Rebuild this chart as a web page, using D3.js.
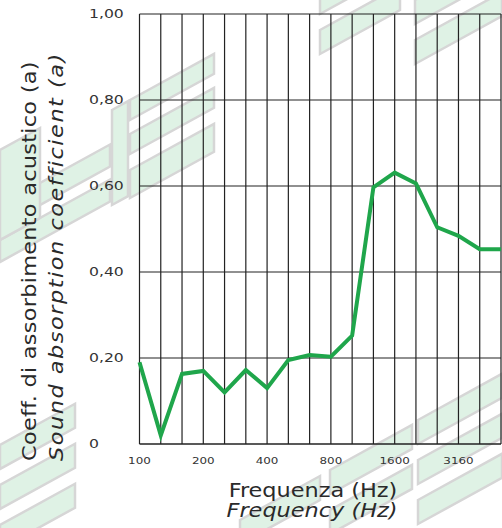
<!DOCTYPE html>
<html>
<head>
<meta charset="utf-8">
<script src="https://cdn.jsdelivr.net/npm/d3@7"></script>
<style>
  html, body { margin: 0; padding: 0; background: #fff; }
  svg { display: block; }
</style>
</head>
<body>
<script>
// ---- data ----
const frequencies = ["100","125","160","200","250","315","400","500","630","800","1000","1250","1600","2000","2500","3150","4000","5000"];
const absorption  = [0.19, 0.02, 0.163, 0.17, 0.12, 0.172, 0.13, 0.195, 0.207, 0.203, 0.252, 0.597, 0.631, 0.606, 0.504, 0.484, 0.453, 0.453];
const xTickAt     = ["100","200","400","800","1600","3150"];
const xTickLabels = ["100","200","400","800","1600","3160"];
const yTicks      = [0, 0.2, 0.4, 0.6, 0.8, 1.0];
const yTickLabels = ["0","0,20","0,40","0,60","0,80","1,00"];
const yTitle      = ["Coeff. di assorbimento acustico (a)", "Sound absorption coefficient (a)"];
const xTitle      = ["Frequenza (Hz)", "Frequency (Hz)"];

// ---- layout ----
const W = 502, H = 528;
const plot = { left: 139.5, right: 501, top: 14, bottom: 444 };

const svg = d3.select("body").append("svg").attr("width", W).attr("height", H);
svg.append("rect").attr("width", W).attr("height", H).attr("fill", "#fff");

// ---- faint background watermark (decorative) ----
const wm = svg.append("g").attr("fill", "#dff2e5").attr("stroke", "#d6d6d6").attr("stroke-width", 2.5);
function band(x0, x1, yTop0, h, slope) {
  const yTop1 = yTop0 - (x1 - x0) * slope;
  wm.append("path").attr("d", `M${x0},${yTop0}L${x1},${yTop1}L${x1},${yTop1 + h}L${x0},${yTop0 + h}Z`);
}
const s = 0.55;
// top-left motif
band(130, 214, 100, 20, s); band(130, 214, 134, 20, s); band(130, 214, 170, 28, s);
band(112, 128, 110, 95, s);
band(0, 110, 205, 22, s); band(0, 110, 240, 22, s); band(0, 40, 150, 90, s);
// top-right motif
band(320, 400, 30, 24, s); band(320, 400, -10, 24, s);
band(415, 502, 0, 24, s); band(415, 502, 40, 24, s);
// bottom-left motif
band(0, 75, 445, 24, s); band(0, 75, 485, 24, s); band(0, 75, 525, 24, s);
// bottom-right motif
band(330, 412, 470, 24, s); band(330, 412, 510, 24, s);
band(418, 502, 420, 24, s); band(418, 502, 460, 24, s); band(418, 502, 500, 24, s);
band(240, 320, 520, 24, s);

// ---- scales ----
const x = d3.scalePoint().domain(frequencies).range([plot.left, plot.right]);
const y = d3.scaleLinear().domain([0, 1]).range([plot.bottom, plot.top]);

// ---- grid ----
const grid = svg.append("g").attr("stroke", "#222").attr("stroke-width", 1.2).attr("fill", "none");
grid.selectAll("line.v").data(frequencies).join("line").attr("class", "v")
  .attr("x1", d => x(d)).attr("x2", d => x(d))
  .attr("y1", y(1)).attr("y2", y(0));
grid.selectAll("line.h").data(yTicks).join("line").attr("class", "h")
  .attr("x1", plot.left).attr("x2", plot.right)
  .attr("y1", d => y(d)).attr("y2", d => y(d))
  .attr("stroke-width", d => d === 0 ? 1.6 : 1.2);

// ---- data line ----
const line = d3.line().x((d, i) => x(frequencies[i])).y(d => y(d));
svg.append("path").datum(absorption)
  .attr("d", line)
  .attr("fill", "none")
  .attr("stroke", "#1fa64b")
  .attr("stroke-width", 4)
  .attr("stroke-linejoin", "miter");

// stretch helper for the extended tick-label font
function stretch(sel, k) {
  sel.each(function () {
    const L = this.getComputedTextLength();
    d3.select(this).attr("textLength", L * k).attr("lengthAdjust", "spacingAndGlyphs");
  });
}

// ---- y tick labels ----
const yl = svg.append("g").attr("font-family", "DejaVu Sans").attr("font-size", 11.5).attr("fill", "#333");
yl.selectAll("text").data(yTicks).join("text")
  .attr("x", 89).attr("y", d => y(d)).attr("dy", "0.36em")
  .text((d, i) => yTickLabels[i])
  .call(stretch, 1.36);

// ---- x tick labels ----
const xl = svg.append("g").attr("font-family", "DejaVu Sans").attr("font-size", 8.7).attr("fill", "#333");
xl.selectAll("text").data(xTickAt).join("text")
  .attr("x", d => x(d)).attr("y", 464)
  .attr("text-anchor", "middle")
  .text((d, i) => xTickLabels[i])
  .call(stretch, 1.37);

// ---- axis titles (wide humanist face: widen glyphs, then fit with letter-spacing) ----
function title(str, tx, ty, rot, italic, anchor, target) {
  const k = 1.12;
  const t = svg.append("text")
    .attr("font-family", "DejaVu Sans").attr("font-size", 20)
    .attr("font-style", italic ? "italic" : "normal")
    .attr("fill", "#2a2a2a").attr("text-anchor", anchor)
    .text(str);
  const L = t.node().getComputedTextLength();
  const ls = Math.max(0, (target / k - L) / (str.length - 1));
  t.style("letter-spacing", `${ls}px`);
  t.attr("transform", `translate(${tx},${ty}) rotate(${rot}) scale(${k},1)`);
  return t;
}
title(yTitle[0], 36, 461, -90, false, "start", 401);
title(yTitle[1], 63, 461, -90, true, "start", 408);
title(xTitle[0], 313, 497, 0, false, "middle", 167);
title(xTitle[1], 312, 516.5, 0, true, "middle", 168);
</script>
</body>
</html>
